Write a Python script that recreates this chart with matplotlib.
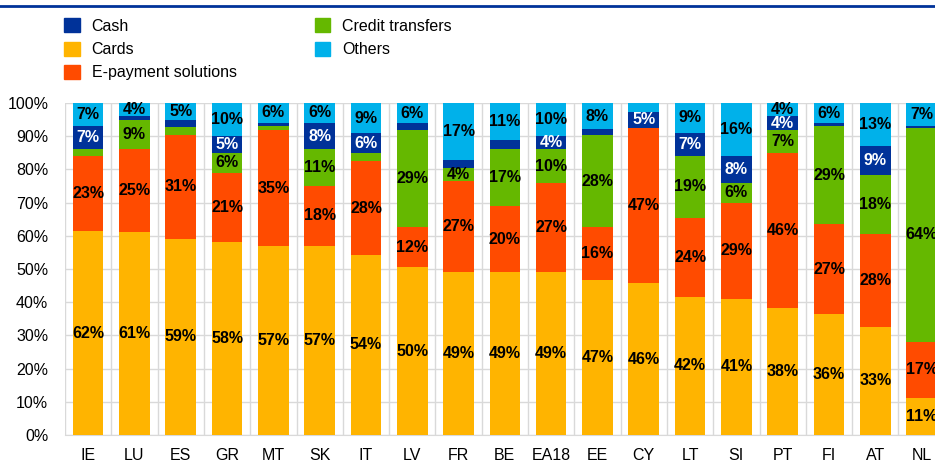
import numpy as np
import matplotlib.pyplot as plt
from matplotlib.patches import Patch
from matplotlib.ticker import PercentFormatter

# Data (shares in %)
countries = ['IE', 'LU', 'ES', 'GR', 'MT', 'SK', 'IT', 'LV', 'FR', 'BE',
             'EA18', 'EE', 'CY', 'LT', 'SI', 'PT', 'FI', 'AT', 'NL']
cards = [62, 61, 59, 58, 57, 57, 54, 50, 49, 49, 49, 47, 46, 42, 41, 38, 36, 33, 11]
epay = [23, 25, 31, 21, 35, 18, 28, 12, 27, 20, 27, 16, 47, 24, 29, 46, 27, 28, 17]
credit = [2, 9, 2.4, 6, 1.4, 11, 2.5, 29, 4, 17, 10, 28, 0, 19, 6, 7, 29, 18, 64]
cash = [7, 1, 2.3, 5, 0.8, 8, 6, 2.1, 2.5, 3, 4, 1.7, 5, 7, 8, 4, 1, 9, 0.5]
others = [7, 4, 5, 10, 6, 6, 9, 6, 17, 11, 10, 8, 2.6, 9, 16, 4, 6, 13, 7]

series = [('Cards', cards, '#FFB400', 'black'),
          ('E-payment solutions', epay, '#FF4B00', 'black'),
          ('Credit transfers', credit, '#65B800', 'black'),
          ('Cash', cash, '#003299', 'white'),
          ('Others', others, '#00B1EA', 'black')]

plt.rcParams['font.family'] = ['Liberation Sans', 'DejaVu Sans']

fig = plt.figure(figsize=(9.35, 4.62), dpi=100)
ax = fig.add_axes([65 / 935, 27 / 462, 879.7 / 935, 332 / 462])

x = np.arange(len(countries))
# rounded shares: scale each column to a full 100%
total = np.sum([np.array(s[1], dtype=float) for s in series], axis=0)
bottom = np.zeros(len(countries))
for name, vals, color, tcolor in series:
    raw = np.array(vals, dtype=float)
    h = raw / total * 100
    ax.bar(x, h, 0.66, bottom=bottom, color=color, zorder=3)
    for xi, b, v, r in zip(x, bottom, h, raw):
        if r >= 3.5:
            ax.text(xi, b + v / 2, f'{r:.0f}%', ha='center', va='center',
                    fontsize=11.5, fontweight='bold', color=tcolor, zorder=4)
    bottom += h

ax.set_xlim(-0.5, len(countries) - 0.5)
ax.set_ylim(0, 100)
ax.set_yticks(np.arange(0, 101, 10))
ax.yaxis.set_major_formatter(PercentFormatter(decimals=0))
ax.set_xticks(x)
ax.set_xticklabels(countries)
ax.set_xticks(np.arange(-0.5, len(countries), 1), minor=True)
ax.tick_params(axis='both', which='both', length=0, labelsize=11.5, colors='#000000')
ax.tick_params(axis='x', pad=9)
ax.tick_params(axis='y', pad=12)
ax.grid(axis='y', which='major', color='#D9D9D9', lw=1, zorder=0)
ax.grid(axis='x', which='minor', color='#D9D9D9', lw=1, zorder=0)
for s in ['top', 'right', 'left']:
    ax.spines[s].set_visible(False)
ax.spines['bottom'].set_color('#D9D9D9')

# legend
handles = [Patch(color='#003299', label='Cash'),
           Patch(color='#FFB400', label='Cards'),
           Patch(color='#FF4B00', label='E-payment solutions'),
           Patch(color='#65B800', label='Credit transfers'),
           Patch(color='#00B1EA', label='Others')]
fig.legend(handles=handles, loc='upper left', bbox_to_anchor=(50 / 935, 1 - 4 / 462),
           ncol=2, frameon=False, fontsize=11.5, handlelength=0.95, handleheight=0.95,
           handletextpad=0.75, columnspacing=4.9, labelspacing=0.5)

# top rule
fig.add_artist(plt.Line2D([0, 1], [1 - 5.5 / 462, 1 - 5.5 / 462], color='#003299', lw=2))

fig.savefig('out.png', dpi=100)
